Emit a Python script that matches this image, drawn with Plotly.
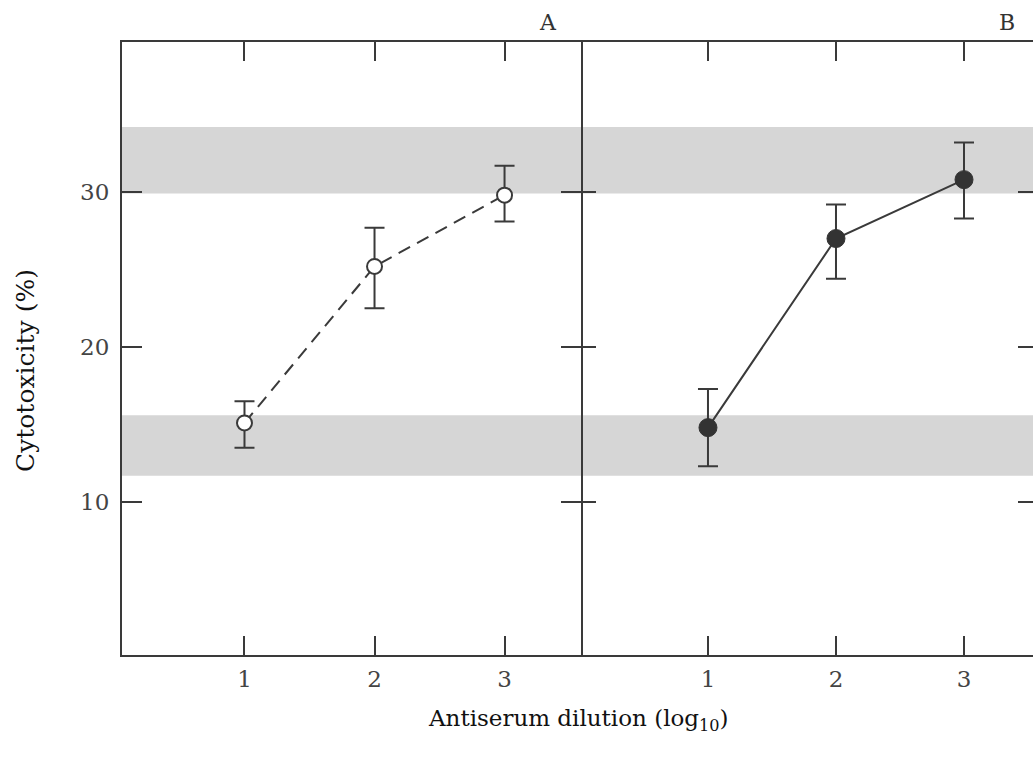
import plotly.graph_objects as go

# ---- data ----
dilution = [1, 2, 3]
panel_a_y = [15.1, 25.2, 29.8]
panel_a_err_plus = [1.4, 2.5, 1.9]
panel_a_err_minus = [1.6, 2.7, 1.7]
panel_b_y = [14.8, 27.0, 30.8]
panel_b_err_plus = [2.5, 2.2, 2.4]
panel_b_err_minus = [2.5, 2.6, 2.5]
band_low = [11.7, 15.6]
band_high = [29.9, 34.2]
y_ticks = [10, 20, 30]
x_ticks = [1, 2, 3]

INK = "#3a3a3a"
FONT = "DejaVu Serif"
W, H = 1033, 760
# page-pixel geometry of the plot frame
PL, PT, PB = 122, 42, 655
L, T, R = PL, PT, 0
B = H - PB
pw = W - L - R
ph = H - T - B
split = (581 - PL) / pw


def px(xpage):
    return (xpage - PL) / pw


def py(ypage):
    return (PB - ypage) / ph


fig = go.Figure()

fig.add_trace(go.Scatter(
    x=dilution, y=panel_a_y, xaxis="x", yaxis="y", mode="lines+markers",
    line=dict(color=INK, width=2, dash="13px,8px"),
    marker=dict(symbol="circle", size=15, color="white", line=dict(color=INK, width=2)),
    error_y=dict(type="data", symmetric=False, array=panel_a_err_plus,
                 arrayminus=panel_a_err_minus, color=INK, thickness=2, width=10),
    showlegend=False))

fig.add_trace(go.Scatter(
    x=dilution, y=panel_b_y, xaxis="x2", yaxis="y2", mode="lines+markers",
    line=dict(color=INK, width=2),
    marker=dict(symbol="circle", size=18, color="#333333", line=dict(color="#333333", width=1)),
    error_y=dict(type="data", symmetric=False, array=panel_b_err_plus,
                 arrayminus=panel_b_err_minus, color=INK, thickness=2, width=10),
    showlegend=False))

for band in (band_low, band_high):
    fig.add_shape(type="rect", xref="paper", yref="y", x0=0, x1=1, y0=band[0], y1=band[1],
                  fillcolor="#d6d6d6", line=dict(width=0), layer="below")

tickfont = dict(family=FONT, size=23, color="#444444")
common_x = dict(tickvals=x_ticks, ticks="inside", ticklen=19, tickwidth=2, tickcolor=INK,
                showline=True, linecolor=INK, linewidth=2, mirror="ticks",
                showgrid=False, zeroline=False, tickfont=tickfont, ticklabelstandoff=2)

fig.update_layout(
    width=W, height=H,
    margin=dict(l=L, r=R, t=T, b=B),
    paper_bgcolor="white", plot_bgcolor="white",
    hovermode=False,
    xaxis=dict(domain=[0, split], range=[0.058, 3.588], anchor="y", **common_x),
    xaxis2=dict(domain=[split, 1], range=[0.008, 3.539], anchor="y2", **common_x),
    yaxis=dict(range=[0.13, 39.68], anchor="x", tickvals=y_ticks, ticks="inside",
               ticklen=20, tickwidth=2, tickcolor=INK, showline=True, linecolor=INK,
               linewidth=2, mirror="ticks", showgrid=False, zeroline=False,
               tickfont=tickfont, ticklabelstandoff=6),
    yaxis2=dict(range=[0.13, 39.68], anchor="x2", tickvals=y_ticks, ticks="inside",
                ticklen=15, tickwidth=2, tickcolor=INK, showline=False,
                mirror="ticks", showgrid=False, zeroline=False, showticklabels=False),
    annotations=[
        dict(text="A", xref="paper", yref="paper", x=px(548), y=py(22),
             xanchor="center", yanchor="middle",
             showarrow=False, font=dict(family=FONT, size=22, color="#333333")),
        dict(text="B", xref="paper", yref="paper", x=px(1007), y=py(22),
             xanchor="center", yanchor="middle",
             showarrow=False, font=dict(family=FONT, size=22, color="#333333")),
        dict(text="Antiserum dilution (log<sub>10</sub>)", xref="paper", yref="paper",
             x=px(578), y=py(720), xanchor="center", yanchor="middle", showarrow=False,
             font=dict(family=FONT, size=23, color="#111111")),
        dict(text="Cytotoxicity (%)", xref="paper", yref="paper", textangle=-90,
             x=px(25), y=py(371), xanchor="center", yanchor="middle", showarrow=False,
             font=dict(family=FONT, size=25, color="#111111")),
    ],
)

fig.write_html("out.html", config={"displayModeBar": False},
               post_script="document.body.style.margin='0px';document.body.style.overflow='hidden';")
